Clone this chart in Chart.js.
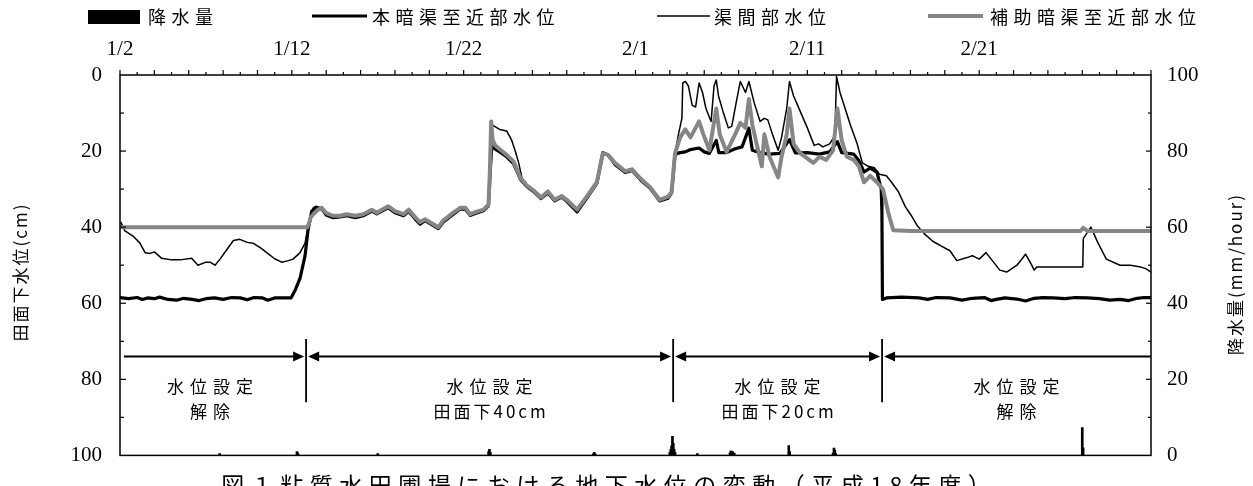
<!DOCTYPE html>
<html><head><meta charset="utf-8">
<script src="https://cdn.jsdelivr.net/npm/chart.js@4.4.1/dist/chart.umd.min.js"></script>
<style>html,body{margin:0;padding:0;background:#fff;overflow:hidden}#wrap{width:1253px;height:486px;position:relative}</style>
</head><body><div id="wrap"><canvas id="c" width="1253" height="486"></canvas></div>
<script>
// ---- data (x = days after 1/2, y = cm below field surface / mm per hour) ----
const dateLabels = ['1/2','1/12','1/22','2/1','2/11','2/21'];
const dateTickDays = [0,10,20,30,40,50];
const seriesNames = ['降水量','本暗渠至近部水位','渠間部水位','補助暗渠至近部水位'];
const sectionDays = [0.23, 10.83, 32.19, 44.35, 60];
const sectionLine1 = ['水位設定','水位設定','水位設定','水位設定'];
const sectionLine2 = ['解除','田面下40cm','田面下20cm','解除'];
const chartTitle = '図１粘質水田圃場における地下水位の変動（平成18年度）';

const rainfall = [[5.8,0.5],[10.3,1.0],[10.35,0.6],[15.0,0.5],[21.45,1.0],[21.5,1.6],[21.55,0.8],[27.55,0.4],[27.6,0.8],[27.65,0.4],[32.0,0.8],[32.05,1.5],[32.1,2.5],[32.15,5.0],[32.2,3.2],[32.25,1.6],[32.3,0.8],[33.6,0.5],[35.5,0.7],[35.55,1.2],[35.65,1.0],[35.75,0.6],[38.92,2.6],[38.97,1.0],[41.5,0.6],[41.55,1.9],[41.6,1.4],[41.65,0.5],[56.0,7.3],[56.05,2.0]];

const mainDrainLevel = [[0,58.5],[0.5,58.8],[1.0,58.5],[1.3,59.0],[1.6,58.6],[2.0,58.8],[2.3,58.4],[2.8,59.0],[3.3,59.2],[3.7,58.7],[4.2,59.0],[4.6,59.3],[5.0,58.8],[5.5,58.6],[6.0,59.0],[6.5,58.5],[7.0,58.6],[7.4,59.1],[7.8,58.5],[8.3,58.6],[8.6,59.2],[9.0,58.6],[9.5,58.6],[9.95,58.6],[10.2,56.5],[10.48,53.4],[10.77,47.5],[10.94,40.8],[11.16,35.8],[11.45,34.9],[11.8,35.5],[12.0,36.8],[12.4,37.5],[12.8,37.3],[13.2,37],[13.7,37.5],[14.16,37],[14.65,35.8],[14.94,36.5],[15.6,34.9],[16.0,36.2],[16.5,37],[16.8,35.8],[17.2,38],[17.46,39.2],[17.75,38.3],[18.04,39.1],[18.53,40.4],[18.8,38.7],[19.4,36.6],[19.8,35.2],[20.1,35.3],[20.37,36.9],[20.76,36.3],[21.15,35.7],[21.44,34.4],[21.55,25],[21.65,18],[21.83,19.5],[22.1,20.2],[22.5,21.5],[22.9,23.3],[23.3,27.4],[23.67,29.3],[24.06,30.6],[24.5,32.5],[24.9,31],[25.3,33.1],[25.7,32.1],[26.0,33.2],[26.6,36],[27.16,32.4],[27.75,28.5],[28.1,20.4],[28.4,21],[28.8,23.5],[29.4,25.6],[29.8,25.1],[30.3,27.6],[30.85,29.8],[31.4,33.1],[31.9,32.4],[32.1,31],[32.3,20.8],[32.6,20.4],[32.9,20.2],[33.2,19.6],[33.7,19.2],[34.0,20.2],[34.3,20.6],[34.7,17.2],[34.85,20.4],[35.3,20.4],[35.8,19.4],[36.2,18.9],[36.6,14],[36.8,19.8],[37.2,20.4],[37.8,20.8],[38.4,20.6],[38.96,17],[39.3,20.5],[40,20.4],[40.7,20.8],[41.3,20.2],[41.75,17.5],[42.0,20.4],[42.7,20.8],[43.0,22.5],[43.3,25.5],[43.65,24.5],[44.05,25.5],[44.3,30],[44.34,36],[44.37,59],[44.6,58.6],[45.5,58.4],[46.5,58.6],[47,59.0],[47.5,58.5],[48.3,58.6],[49,59.2],[49.6,58.7],[50.3,58.5],[50.7,59.3],[51,59.0],[51.5,58.6],[52.2,58.9],[52.7,59.4],[53.2,58.7],[53.7,58.5],[54.3,58.6],[55,58.8],[55.6,58.5],[56.3,58.6],[57,58.8],[57.6,59.2],[58.2,59.0],[58.7,59.3],[59.2,58.7],[59.6,58.5],[60,58.5]];

const midFieldLevel = [[0.04,38.6],[0.29,41],[0.8,42.5],[1.16,44.2],[1.46,46.7],[1.75,46.9],[2.0,46.5],[2.43,48.2],[3.0,48.6],[3.49,48.6],[4.17,48.2],[4.54,50],[5.0,49.2],[5.24,49.2],[5.53,50],[5.82,48.4],[6.2,46],[6.6,43.5],[6.98,43.2],[7.4,44],[7.74,44.2],[8.2,45.5],[8.54,46.7],[9.0,48.3],[9.41,49.2],[9.8,48.8],[10.07,48.4],[10.48,46.7],[10.77,44.2],[10.9,41],[11.06,37.4],[11.23,35],[11.4,34.5],[11.64,34.8],[12.0,36.5],[12.4,37],[12.8,37],[13.2,36.6],[13.7,37],[14.16,36.6],[14.65,35.4],[14.94,36.2],[15.6,34.5],[16.0,35.8],[16.5,36.6],[16.8,35.4],[17.2,37.5],[17.46,38.7],[17.75,37.9],[18.04,38.7],[18.53,40],[18.8,38.3],[19.4,36.2],[19.8,34.9],[20.1,34.9],[20.37,36.6],[20.76,35.9],[21.15,35.4],[21.44,34],[21.55,20],[21.62,13],[21.8,13.5],[22.1,14.3],[22.5,14.7],[22.8,17.2],[23.0,20],[23.2,23.1],[23.4,27.2],[23.67,29],[24.06,30.3],[24.5,32.2],[24.9,30.6],[25.3,32.8],[25.7,31.8],[26.0,32.8],[26.6,35.4],[27.16,32],[27.75,28.2],[28.1,20.4],[28.4,20.8],[28.8,23],[29.4,25.2],[29.8,24.6],[30.3,27.1],[30.85,29.4],[31.4,32.6],[31.9,31.8],[32.1,30.7],[32.3,20.6],[32.5,15.6],[32.7,11.4],[32.75,2.1],[32.9,1.7],[33.08,2.9],[33.3,8],[33.5,8.4],[33.7,2.1],[33.9,4.6],[34.1,8.8],[34.4,12.2],[34.57,2.9],[34.7,1.3],[34.83,5.5],[35.1,9.7],[35.4,13.9],[35.6,13.5],[35.9,6.3],[36.1,1.7],[36.4,4.6],[36.6,1.7],[36.9,7.2],[37.25,12.2],[37.5,11.4],[37.7,11.8],[38.0,16],[38.3,19.8],[38.5,16.4],[38.8,8.8],[38.96,1.7],[39.2,5.5],[39.6,9.7],[40.0,13.9],[40.4,18.5],[40.65,18.1],[40.9,18.9],[41.3,18.1],[41.6,16],[41.7,0.4],[41.9,4.6],[42.2,8.8],[42.5,13.1],[42.9,18.1],[43.2,23.1],[43.55,24],[43.9,24.4],[44.2,26.1],[44.6,26.5],[44.9,28.2],[45.3,30.7],[45.7,34.6],[46.0,36.6],[46.4,39.6],[46.8,41.7],[47.3,43.7],[47.8,45],[48.3,46.2],[48.7,48.8],[49.3,48],[49.6,47.5],[50.0,48.4],[50.4,46.7],[51.2,51.3],[51.6,51.8],[52.2,50],[52.7,47.1],[53.06,50],[53.2,51.3],[53.35,50.5],[56.03,50.5],[56.06,43],[56.5,40],[56.9,44],[57.4,48.4],[58.2,50],[58.8,50],[59.4,50.5],[59.7,50.9],[60,51.8]];

const subDrainLevel = [[0,40],[10.9,40],[11.0,39],[11.1,37.4],[11.25,36.6],[11.5,35.5],[11.74,34.9],[12.0,36.3],[12.4,37],[12.8,37],[13.2,36.6],[13.7,37],[14.16,36.6],[14.65,35.4],[14.94,36.2],[15.6,34.5],[16.0,35.8],[16.5,36.6],[16.8,35.4],[17.2,37.5],[17.46,38.7],[17.75,37.9],[18.04,38.7],[18.53,40],[18.8,38.3],[19.4,36.2],[19.8,34.9],[20.1,34.9],[20.37,36.6],[20.76,35.9],[21.15,35.4],[21.44,34.1],[21.52,26],[21.6,12.2],[21.68,17],[21.83,18.5],[22.1,19.5],[22.5,21],[22.9,22.7],[23.3,27],[23.67,29],[24.06,30.3],[24.5,32.2],[24.9,30.6],[25.3,32.8],[25.7,31.8],[26.0,32.8],[26.6,35.4],[27.16,32],[27.75,28.2],[28.1,20.6],[28.4,21],[28.8,23.1],[29.4,25.3],[29.8,24.8],[30.3,27.3],[30.85,29.5],[31.4,32.8],[31.9,32],[32.1,30.7],[32.3,20.6],[32.6,16.4],[32.9,14.3],[33.2,16.4],[33.7,12.2],[33.95,15.6],[34.3,19.8],[34.7,8.8],[34.9,15.6],[35.3,20.2],[35.8,15.6],[36.1,12.6],[36.4,13.9],[36.6,6.3],[36.8,13.1],[37.05,18.1],[37.35,24],[37.5,15.6],[37.8,21.5],[38.3,26.9],[38.5,21.5],[38.8,15.6],[38.96,8.8],[39.2,18.1],[39.6,20.6],[40.35,23.1],[40.7,21.5],[41.1,22.3],[41.5,19.8],[41.75,8.8],[42.0,17.2],[42.3,21.5],[42.7,22.3],[43.0,24],[43.3,28.2],[43.65,26.5],[44.05,28.2],[44.4,30],[44.7,36],[45.0,40.8],[46.0,41],[50,41],[55.9,41],[56.05,40.2],[56.3,41],[60,41]];

// ---- rendering ----
const CJK = '"Noto Sans CJK JP", "Noto Sans", sans-serif';
const SERIF = '"Liberation Serif", "DejaVu Serif", serif';
const GRAY = '#868686';
const pts = arr => arr.map(([d, v]) => ({x: d, y: v}));

function spaced(ctx, text, x, y, sp, align) {
  ctx.letterSpacing = sp + 'px';
  const w = ctx.measureText(text).width - sp;
  const sx = align === 'center' ? x - w / 2 : (align === 'right' ? x - w : x);
  ctx.textAlign = 'left';
  ctx.fillText(text, sx, y);
  ctx.letterSpacing = '0px';
}
function seg(ctx, x1, y1, x2, y2) { ctx.beginPath(); ctx.moveTo(x1, y1); ctx.lineTo(x2, y2); ctx.stroke(); }
function arrowHead(ctx, tipX, y, dir) {
  ctx.beginPath(); ctx.moveTo(tipX, y); ctx.lineTo(tipX - dir * 11, y - 5); ctx.lineTo(tipX - dir * 11, y + 5); ctx.closePath(); ctx.fill();
}

const decor = {
  id: 'decor',
  afterDraw(chart) {
    const {ctx, chartArea: a, scales} = chart;
    const x = scales.x, y = scales.y, yR = scales.yR;
    ctx.save();
    ctx.strokeStyle = '#000'; ctx.fillStyle = '#000';
    // frame
    ctx.lineWidth = 1.5;
    ctx.strokeRect(a.left, a.top, a.right - a.left, a.bottom - a.top);
    // ticks
    ctx.lineWidth = 1.2;
    for (let d = 0; d <= 60; d++) {
      const px = x.getPixelForValue(d);
      seg(ctx, px, a.top, px, a.top - (d % 2 === 0 ? 5 : 3));
    }
    for (let v = 10; v < 100; v += 10) {
      const py = y.getPixelForValue(v);
      seg(ctx, a.left, py, a.left + (v % 20 === 0 ? 6 : 4), py);
      const pr = yR.getPixelForValue(v);
      seg(ctx, a.right, pr, a.right - (v % 20 === 0 ? 5 : 3), pr);
    }
    // section arrows
    const ay = y.getPixelForValue(74);
    ctx.lineWidth = 2;
    const n = sectionLine1.length;
    for (let i = 0; i < n; i++) {
      const x0 = x.getPixelForValue(sectionDays[i]);
      const x1 = x.getPixelForValue(sectionDays[i + 1]);
      const s = i > 0 ? x0 + 2 : x0;
      const e = i < n - 1 ? x1 - 2 : x1;
      seg(ctx, s + (i > 0 ? 6 : 0), ay, e - (i < n - 1 ? 6 : 0), ay);
      if (i > 0) arrowHead(ctx, s, ay, -1);
      if (i < n - 1) arrowHead(ctx, e, ay, 1);
      ctx.font = '17px ' + CJK;
      ctx.textBaseline = 'middle';
      const cx = (x0 + x1) / 2 - (i === 0 ? 5 : 0);
      spaced(ctx, sectionLine1[i], cx, y.getPixelForValue(82), 6, 'center');
      spaced(ctx, sectionLine2[i], cx, y.getPixelForValue(88.4), i === 0 || i === n - 1 ? 6 : 3, 'center');
    }
    ctx.lineWidth = 1.8;
    for (let i = 1; i < sectionDays.length - 1; i++) {
      const px = x.getPixelForValue(sectionDays[i]);
      seg(ctx, px, y.getPixelForValue(69.4), px, y.getPixelForValue(86));
    }
    // legend
    ctx.font = '18px ' + CJK;
    ctx.textBaseline = 'middle';
    ctx.fillRect(88, 10, 52, 14);
    spaced(ctx, seriesNames[0], 148, 17, 5.5, 'left');
    ctx.lineWidth = 3.2; seg(ctx, 312, 16, 367, 16);
    spaced(ctx, seriesNames[1], 372, 17, 5.5, 'left');
    ctx.lineWidth = 1.5; seg(ctx, 657, 16, 710, 16);
    spaced(ctx, seriesNames[2], 714, 17, 5.5, 'left');
    ctx.strokeStyle = GRAY; ctx.lineWidth = 4; seg(ctx, 928, 16, 983, 16);
    spaced(ctx, seriesNames[3], 990, 17, 5.5, 'left');
    // axis titles
    ctx.font = '17px ' + CJK;
    ctx.save(); ctx.translate(21, 273); ctx.rotate(-Math.PI / 2);
    spaced(ctx, '田面下水位(cm)', 0, 0, 2, 'center'); ctx.restore();
    ctx.save(); ctx.translate(1236, 275); ctx.rotate(-Math.PI / 2);
    spaced(ctx, '降水量(mm/hour)', 0, 0, 2, 'center'); ctx.restore();
    // figure caption (cut off by the bottom edge)
    ctx.font = '23px ' + CJK;
    ctx.textBaseline = 'alphabetic';
    spaced(ctx, chartTitle, 606, 494, 6.5, 'center');
    ctx.restore();
  }
};

new Chart(document.getElementById('c'), {
  type: 'line',
  data: {
    datasets: [
      {type: 'line', label: seriesNames[3], data: pts(subDrainLevel), yAxisID: 'y', borderColor: GRAY, borderWidth: 4, pointRadius: 0, fill: false, tension: 0, borderJoinStyle: 'round', order: 0},
      {type: 'line', label: seriesNames[1], data: pts(mainDrainLevel), yAxisID: 'y', borderColor: '#000', borderWidth: 3.2, pointRadius: 0, fill: false, tension: 0, borderJoinStyle: 'round', order: 1},
      {type: 'line', label: seriesNames[2], data: pts(midFieldLevel), yAxisID: 'y', borderColor: '#000', borderWidth: 1.5, pointRadius: 0, fill: false, tension: 0, borderJoinStyle: 'round', order: 2},
      {type: 'bar', label: seriesNames[0], data: pts(rainfall), yAxisID: 'yR', backgroundColor: '#000', barThickness: 2, order: 3}
    ]
  },
  options: {
    responsive: false, animation: false, devicePixelRatio: 1,
    layout: {padding: {top: 0, left: 0, right: 0, bottom: 15}},
    plugins: {legend: {display: false}, tooltip: {enabled: false}},
    scales: {
      x: {type: 'linear', position: 'top', min: 0, max: 60, offset: false,
        grid: {display: false, drawTicks: false}, border: {display: false},
        ticks: {stepSize: 10, autoSkip: false, maxRotation: 0, padding: 13, color: '#000',
          font: {family: SERIF, size: 21},
          callback: v => { const i = dateTickDays.indexOf(v); return i >= 0 ? dateLabels[i] : ''; }},
        afterFit: s => { s.height = 75; }},
      y: {type: 'linear', position: 'left', reverse: true, min: 0, max: 100,
        grid: {display: false, drawTicks: false}, border: {display: false},
        ticks: {stepSize: 20, padding: 18, color: '#000', font: {family: SERIF, size: 21}},
        afterFit: s => { s.width = 120; }},
      yR: {type: 'linear', position: 'right', min: 0, max: 100,
        grid: {display: false, drawTicks: false}, border: {display: false},
        ticks: {stepSize: 20, padding: 16, color: '#000', font: {family: SERIF, size: 21}},
        afterFit: s => { s.width = 102; }}
    }
  },
  plugins: [decor]
});
</script></body></html>
